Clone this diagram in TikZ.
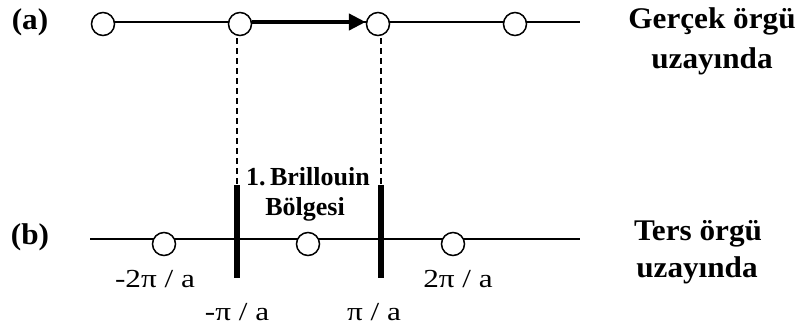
\documentclass[tikz,border=0pt]{standalone}
\usepackage{fontspec}
\setmainfont{Liberation Serif}
\newfontfamily\headfont[FakeStretch=1.04]{Liberation Serif Bold}
\newfontfamily\zonefont{Liberation Serif Bold}
\newfontfamily\tagfont[FakeStretch=1.2]{Liberation Serif}
\usetikzlibrary{arrows.meta}
\tikzset{
  site/.style={circle, draw=black, line width=1.5pt, fill=white, minimum size=23pt, inner sep=0pt},
  axis/.style={line width=1.8pt},
  guide/.style={line width=1.3pt, dash pattern=on 6pt off 4pt},
  zone/.style={line width=6pt},
  vec/.style={line width=4.5pt, -{Triangle[length=17pt,width=16pt]}},
  head/.style={font=\headfont\fontsize{30}{32}\selectfont, anchor=base, inner sep=0pt},
  zonetext/.style={font=\zonefont\fontsize{26}{30}\selectfont, anchor=base, inner sep=0pt},
  tag/.style={font=\tagfont\fontsize{26}{28}\selectfont, anchor=base, inner sep=0pt},
}
\begin{document}
\begin{tikzpicture}[x=1pt,y=-1pt]
\useasboundingbox (0,0) rectangle (803,333);
% row (a)
\coordinate (aL) at (103,22);
\coordinate (aR) at (580,22);
\draw[axis] (aL) -- (aR);
\node[site] (a1) at (103,24) {};
\node[site] (a2) at (240,24) {};
\node[site] (a3) at (378,24) {};
\node[site] (a4) at (515,24) {};
\draw[vec] (a2.east |- aL) -- (a3.west |- aL);
% row (b)
\coordinate (bL) at (90,239);
\coordinate (bR) at (580,239);
\draw[axis] (bL) -- (bR);
\node[site] (b1) at (164,244) {};
\node[site] (b2) at (308,244) {};
\node[site] (b3) at (453,244) {};
% zone borders
\coordinate (zlt) at (237,185);
\coordinate (zlb) at (237,278);
\coordinate (zrt) at (381,185);
\coordinate (zrb) at (381,278);
\coordinate (glt) at (237,38);
\coordinate (grt) at (381,38);
\draw[zone] (zlt) -- (zlb);
\draw[zone] (zrt) -- (zrb);
\draw[guide] (glt) -- (zlt);
\draw[guide] (grt) -- (zrt);
% labels
\node[head] (la) at (30,29) {(a)};
\node[head] (lb) at (30,244) {(b)};
\node[head] (real1) at (712,28) {Gerçek örgü};
\node[head] (real2) at (712,68) {uzayında};
\node[head] (rec1) at (698,240) {Ters örgü};
\node[head] (rec2) at (697,277) {uzayında};
\node[zonetext] (bz1) at (308,185) {1.\,Brillouin};
\node[zonetext] (bz2) at (305,215) {Bölgesi};
\node[tag] (m2) at (155,287) {-2π / a};
\node[tag] (m1) at (237,320) {-π / a};
\node[tag] (p1) at (374,320) {π / a};
\node[tag] (p2) at (458,287) {2π / a};
\end{tikzpicture}
\end{document}
